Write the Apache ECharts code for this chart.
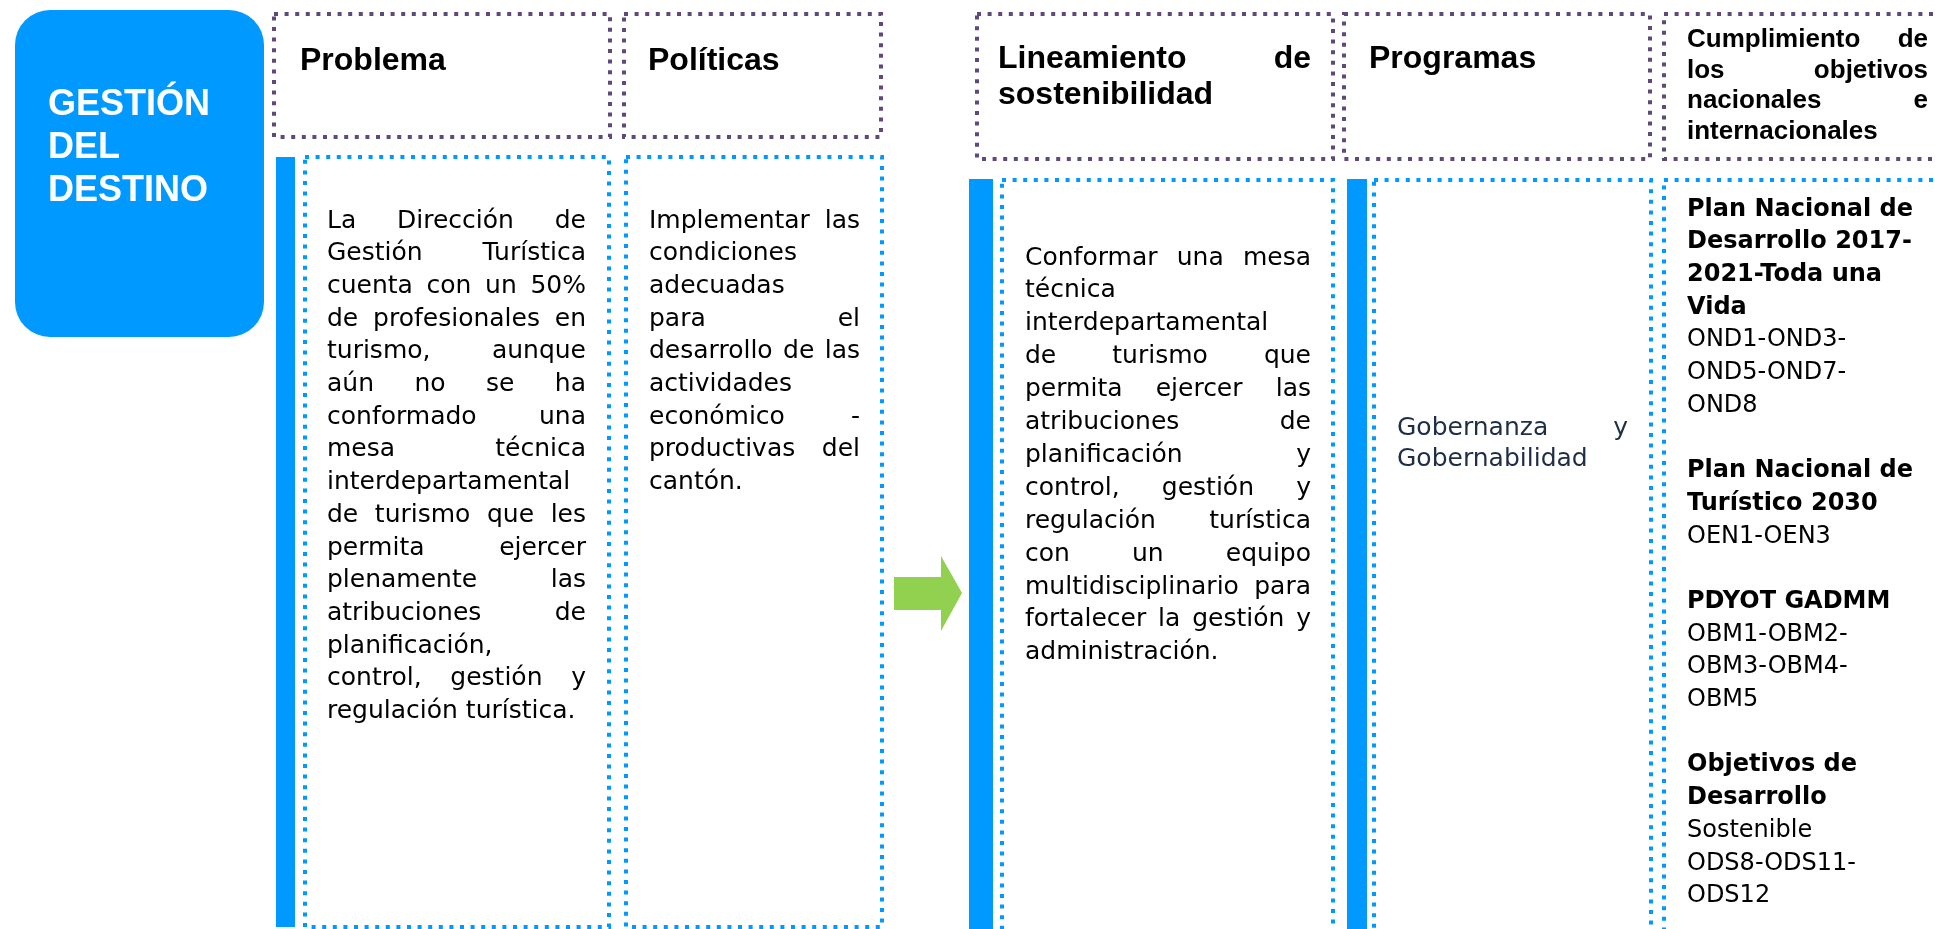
<!DOCTYPE html>
<html>
<head>
<meta charset="utf-8">
<script src="https://cdn.jsdelivr.net/npm/echarts/dist/echarts.min.js"></script>
<style>
html,body{margin:0;padding:0;background:#ffffff;}
#chart{width:1935px;height:929px;}
</style>
</head>
<body>
<div id="chart"></div>
<script>
// ---------- content (text data) ----------
const sideTitle = ['GESTIÓN', 'DEL', 'DESTINO'];
const headerProblema = ['Problema'];
const headerPoliticas = ['Políticas'];
const headerLineamiento = ['Lineamiento de', 'sostenibilidad'];
const headerProgramas = ['Programas'];
const headerCumplimiento = ['Cumplimiento de', 'los objetivos', 'nacionales e', 'internacionales'];

const problemaLines = [
  'La Dirección de', 'Gestión Turística', 'cuenta con un 50%', 'de profesionales en',
  'turismo, aunque', 'aún no se ha', 'conformado una', 'mesa técnica',
  'interdepartamental', 'de turismo que les', 'permita ejercer', 'plenamente las',
  'atribuciones de', 'planificación,', 'control, gestión y', 'regulación turística.'
];
const politicasLines = [
  'Implementar las', 'condiciones', 'adecuadas', 'para el', 'desarrollo de las',
  'actividades', 'económico -', 'productivas del', 'cantón.'
];
const lineamientoLines = [
  'Conformar una mesa', 'técnica', 'interdepartamental', 'de turismo que',
  'permita ejercer las', 'atribuciones de', 'planificación y', 'control, gestión y',
  'regulación turística', 'con un equipo', 'multidisciplinario para',
  'fortalecer la gestión y', 'administración.'
];
const programasLines = ['Gobernanza y', 'Gobernabilidad'];
const objetivosLines = [
  'Plan Nacional de', 'Desarrollo 2017-', '2021-Toda una', 'Vida',
  'OND1-OND3-', 'OND5-OND7-', 'OND8', '',
  'Plan Nacional de', 'Turístico 2030', 'OEN1-OEN3', '',
  'PDYOT GADMM', 'OBM1-OBM2-', 'OBM3-OBM4-', 'OBM5', '',
  'Objetivos de', 'Desarrollo', 'Sostenible', 'ODS8-ODS11-', 'ODS12'
];
const objetivosBold = [1,1,1,1, 0,0,0,0, 1,1,0,0, 1,0,0,0,0, 1,1,0,0,0];

// ---------- drawing helpers ----------
const BLUE = '#0099FF';
const PURPLE = '#5F497A';
const GREEN = '#92D050';
const ARIAL = '"Liberation Sans", Arial, sans-serif';
const BODY = '"DejaVu Sans", sans-serif';

const ctx = document.createElement('canvas').getContext('2d');
function measure(t, font) { ctx.font = font; return ctx.measureText(t).width; }

const elements = [];

function dottedRect(x, y, w, h, color) {
  elements.push({
    type: 'rect', silent: true,
    shape: { x: x, y: y, width: w, height: h },
    style: { fill: 'none', stroke: color, lineWidth: 4, lineDash: [4, 6.6], lineCap: 'butt' }
  });
}
function solidRect(x, y, w, h, color, r) {
  elements.push({
    type: 'rect', silent: true,
    shape: { x: x, y: y, width: w, height: h, r: r || 0 },
    style: { fill: color }
  });
}
function addWord(text, x, baseline, size, weight, family, color) {
  elements.push({
    type: 'text', silent: true, x: x, y: baseline - size * 0.36,
    style: {
      text: text, font: weight + ' ' + size + 'px ' + family, fill: color,
      textAlign: 'left', textVerticalAlign: 'middle'
    }
  });
}
function addLine(line, x0, x1, baseline, size, weight, family, color, justify) {
  const font = weight + ' ' + size + 'px ' + family;
  const ws = line.trim().split(/\s+/);
  if (!justify || ws.length < 2) { addWord(line.trim(), x0, baseline, size, weight, family, color); return; }
  const widths = ws.map(function (w) { return measure(w, font); });
  const total = widths.reduce(function (a, b) { return a + b; }, 0);
  const gap = (x1 - x0 - total) / (ws.length - 1);
  let x = x0;
  ws.forEach(function (w, k) { addWord(w, x, baseline, size, weight, family, color); x += widths[k] + gap; });
}
function addBlock(lines, x0, x1, y0, step, size, weight, family, color, justify) {
  lines.forEach(function (ln, i) {
    if (!ln) return;
    addLine(ln, x0, x1, y0 + i * step, size, weight, family, color, justify && i < lines.length - 1);
  });
}

// ---------- layout ----------
// left title block
solidRect(15, 10, 249, 327, BLUE, 35);
sideTitle.forEach(function (t, i) { addWord(t, 48, 118 + i * 43, 36, 'bold', ARIAL, '#ffffff'); });

// header boxes
dottedRect(274, 14, 336, 123, PURPLE);
dottedRect(624, 14, 257, 123, PURPLE);
dottedRect(977, 14, 356, 145, PURPLE);
dottedRect(1344, 14, 306, 145, PURPLE);
dottedRect(1664, 14, 300, 145, PURPLE);

addBlock(headerProblema, 300, 600, 73, 36, 32, 'bold', ARIAL, '#000000', false);
addBlock(headerPoliticas, 648, 870, 73, 36, 32, 'bold', ARIAL, '#000000', false);
addBlock(headerLineamiento, 998, 1311, 71, 36, 32, 'bold', ARIAL, '#000000', true);
addBlock(headerProgramas, 1369, 1640, 71, 36, 32, 'bold', ARIAL, '#000000', false);
addBlock(headerCumplimiento, 1687, 1928, 49, 30.7, 26, 'bold', ARIAL, '#000000', true);

// blue bars
solidRect(276, 157, 19, 770, BLUE);
solidRect(969, 179, 24, 760, BLUE);
solidRect(1347, 179, 20, 760, BLUE);

// content boxes
dottedRect(305, 157, 304, 770, BLUE);
dottedRect(626, 157, 256, 770, BLUE);
dottedRect(1002, 180, 331, 770, BLUE);
dottedRect(1374, 180, 277, 770, BLUE);
dottedRect(1664, 180, 300, 770, BLUE);

// arrow
elements.push({
  type: 'polygon', silent: true,
  shape: { points: [[894, 577], [941, 577], [941, 556], [962, 593], [941, 631], [941, 610], [894, 610]] },
  style: { fill: GREEN }
});

// body texts
addBlock(problemaLines, 327, 586, 230, 32.7, 25, 'normal', BODY, '#000000', true);
addBlock(politicasLines, 649, 860, 230, 32.7, 25, 'normal', BODY, '#000000', true);
addBlock(lineamientoLines, 1025, 1311, 267, 32.9, 25, 'normal', BODY, '#000000', true);
addBlock(programasLines, 1397, 1628, 437, 31, 25, 'normal', BODY, '#1F2D45', true);
objetivosLines.forEach(function (ln, i) {
  if (!ln) return;
  addWord(ln, 1687, 218 + i * 32.7, 24, objetivosBold[i] ? 'bold' : 'normal', BODY, '#000000');
});

const chart = echarts.init(document.getElementById('chart'), null, { renderer: 'canvas' });
chart.setOption({
  backgroundColor: '#ffffff',
  animation: false,
  graphic: { elements: elements }
});
</script>
</body>
</html>
